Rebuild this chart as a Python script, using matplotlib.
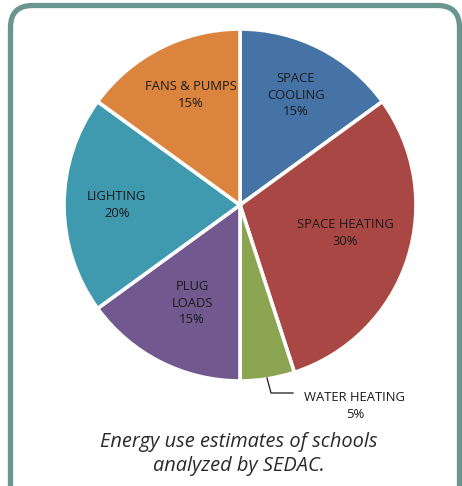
import numpy as np
import matplotlib.pyplot as plt
from matplotlib.patches import FancyBboxPatch

labels = ['SPACE\nCOOLING', 'SPACE HEATING', 'WATER HEATING', 'PLUG\nLOADS', 'LIGHTING', 'FANS & PUMPS']
shares = [15, 30, 5, 15, 20, 15]
colors = ['#4673a6', '#a94744', '#8ba452', '#71598f', '#409aaf', '#db843e']
caption = 'Energy use estimates of schools\nanalyzed by SEDAC.'

plt.rcParams['font.family'] = ['Open Sans', 'DejaVu Sans']

fig = plt.figure(figsize=(4.62, 4.86), dpi=100)
ax = fig.add_axes([0, 0, 1, 1])

# frame
frame = FancyBboxPatch((10.5, -30), 449, 510.5, boxstyle='round,pad=0,rounding_size=22',
                       fc='white', ec='#6a9590', lw=3.8)
ax.add_patch(frame)

cx, cy, r = 240, 281, 176
wedges, _ = ax.pie(shares, colors=colors, startangle=90, counterclock=False,
                   center=(cx, cy), radius=r, frame=True,
                   wedgeprops=dict(edgecolor='white', linewidth=2.6))
ax.set_xlim(0, 462)
ax.set_ylim(0, 486)
ax.set_aspect('equal')
ax.axis('off')

# label distance (fraction of radius) and small angle nudge per slice
frac = [0.70, 0.62, None, 0.62, 0.70, 0.685]
nudge = [0, 3, 0, 1, 0, -3]
for w, lab, s, f, d in zip(wedges, labels, shares, frac, nudge):
    if f is None:
        continue
    ang = np.deg2rad((w.theta1 + w.theta2) / 2 + d)
    ax.text(cx + f * r * np.cos(ang), cy + f * r * np.sin(ang), f'{lab}\n{s}%',
            ha='center', va='center', fontsize=9.4, color='#1a1a1a', linespacing=1.35)

# water heating with leader line
ax.plot([267, 271, 293], [108, 93, 93], color='#1a1a1a', lw=0.9)
ax.text(355, 80, f'{labels[2]}\n{shares[2]}%', ha='center', va='center',
        fontsize=9.4, color='#1a1a1a', linespacing=1.35)

ax.text(239, 32, caption, ha='center', va='center', fontsize=14.4, style='italic',
        color='#2a2a2a', linespacing=1.22)

fig.savefig('out.png', dpi=100)
